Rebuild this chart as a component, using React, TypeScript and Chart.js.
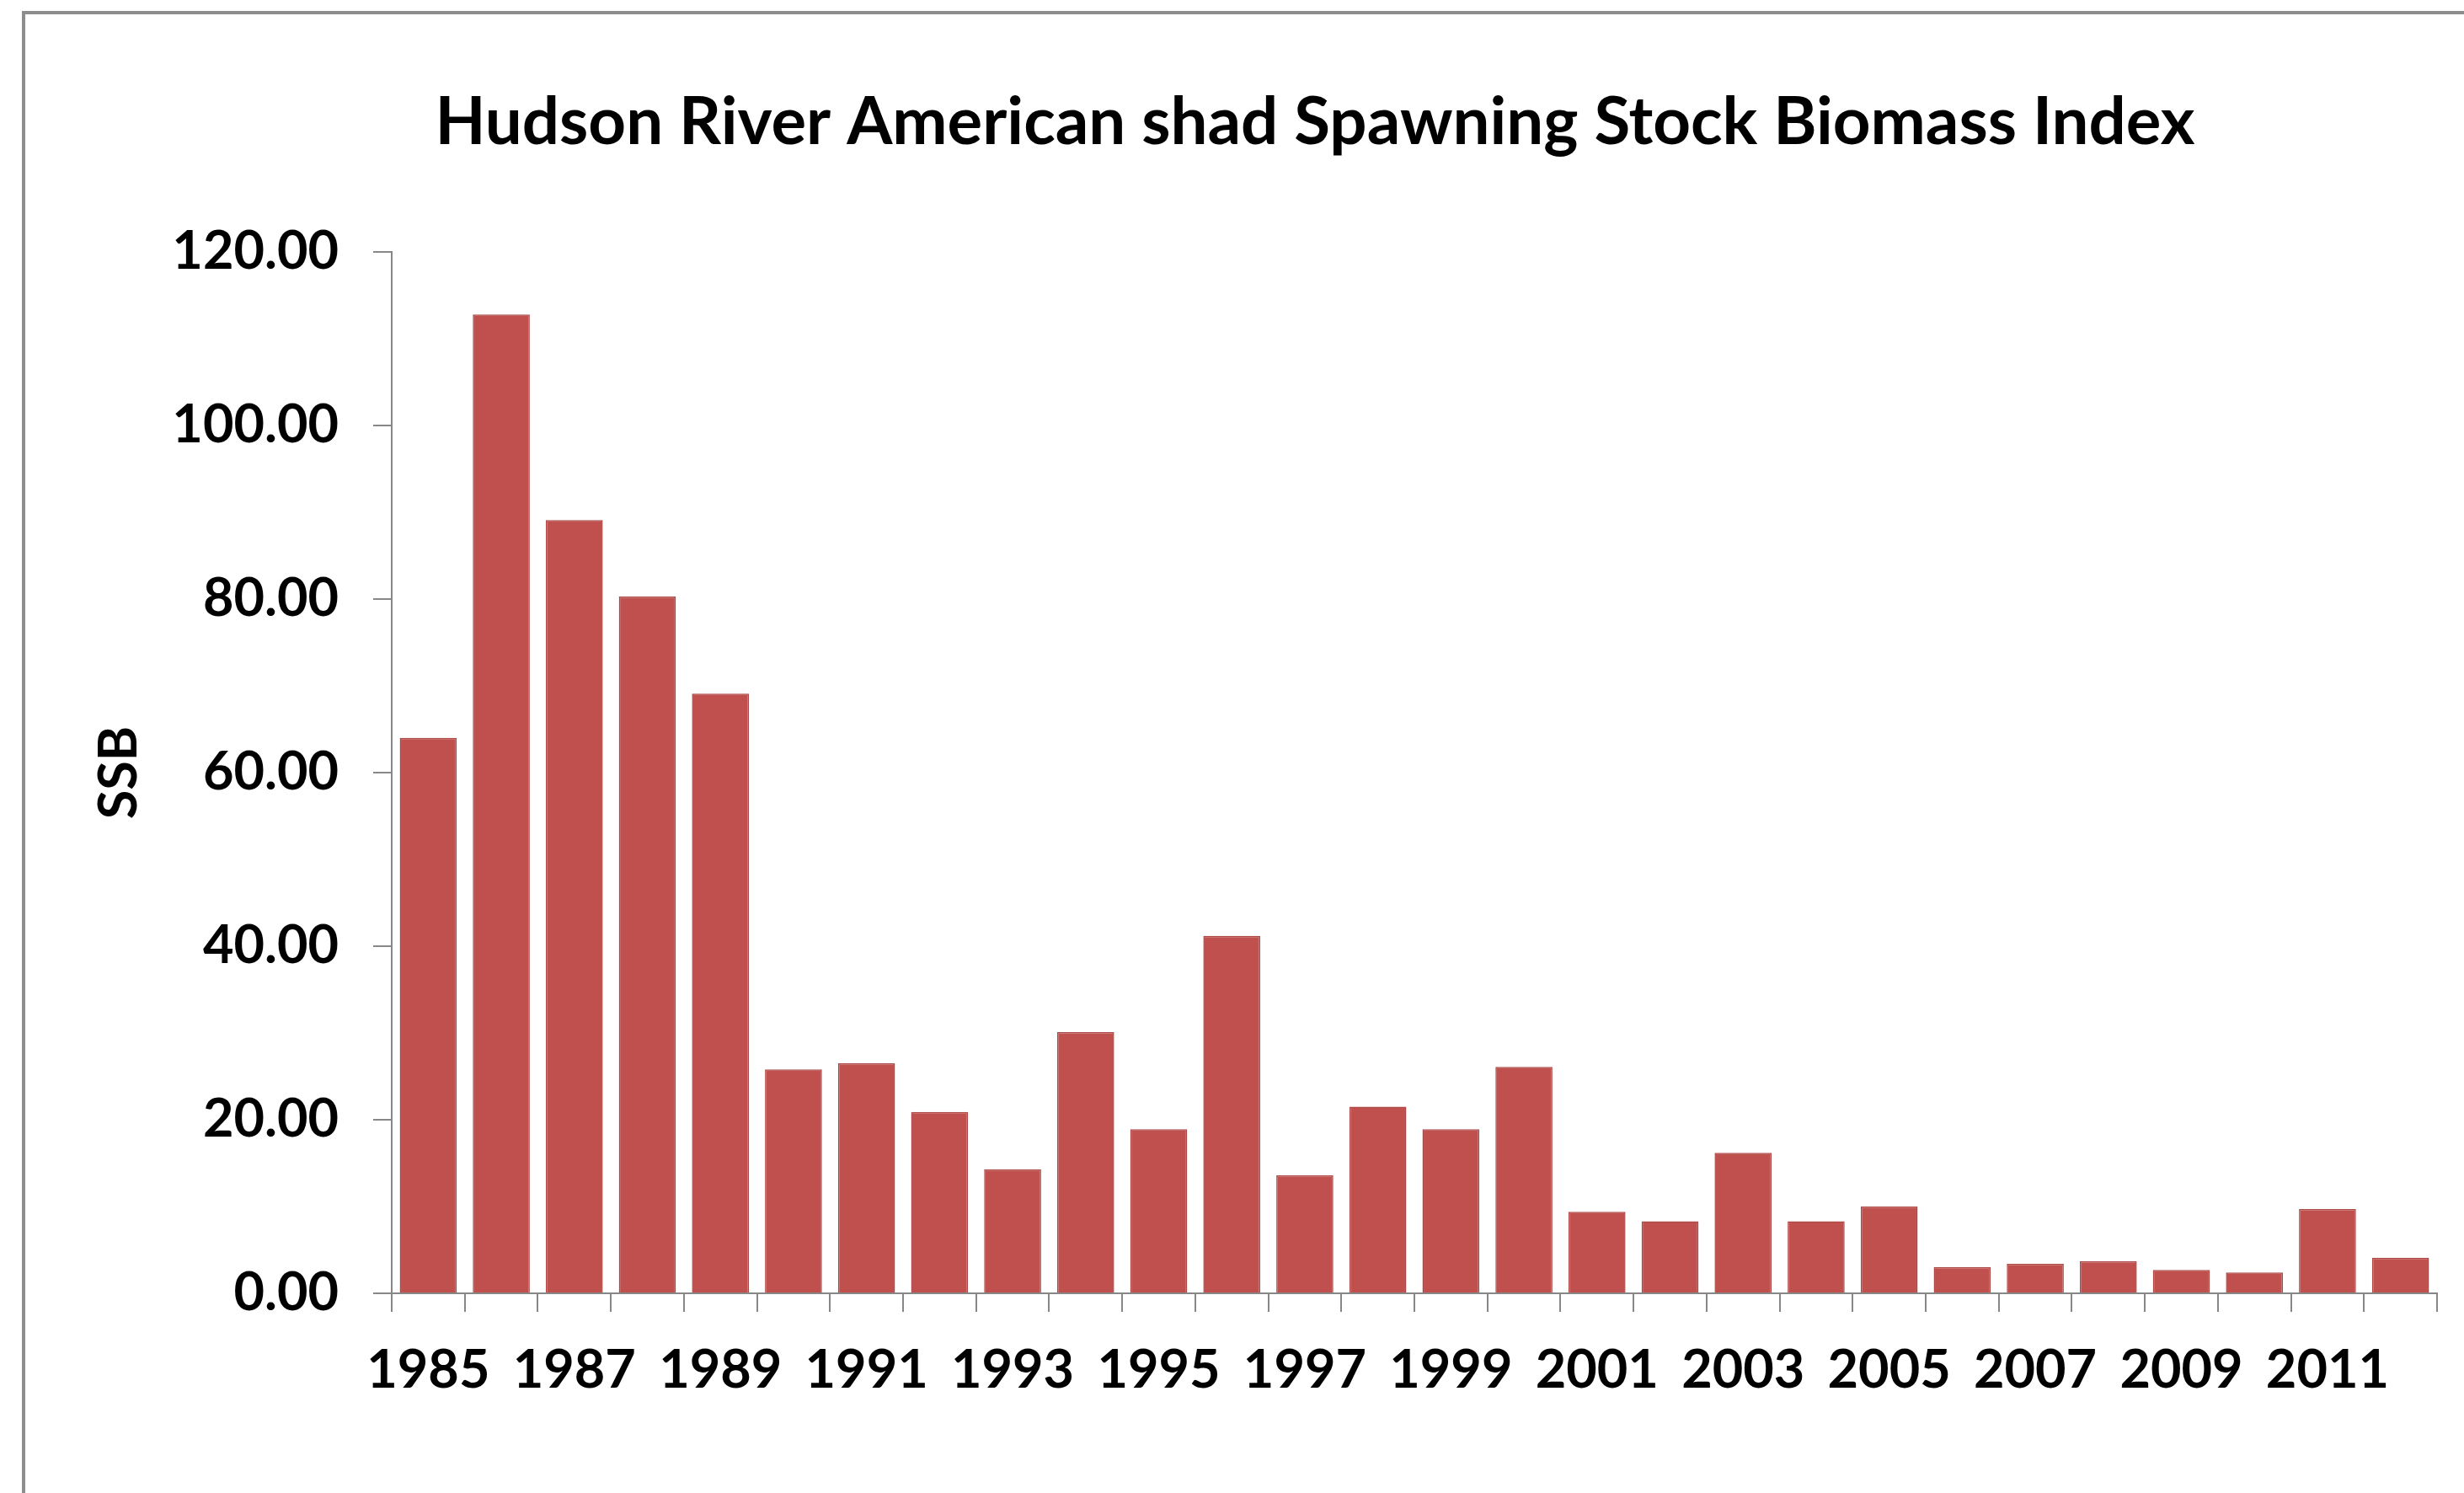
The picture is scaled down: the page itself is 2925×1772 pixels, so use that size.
import React, { useEffect, useRef } from 'react';
import { Chart, registerables } from 'chart.js';

Chart.register(...registerables);

// Survey years (x categories)
const years: string[] = [
  '1985', '1986', '1987', '1988', '1989', '1990', '1991', '1992', '1993', '1994',
  '1995', '1996', '1997', '1998', '1999', '2000', '2001', '2002', '2003', '2004',
  '2005', '2006', '2007', '2008', '2009', '2010', '2011', '2012',
];

// Spawning stock biomass index per year
const ssbIndex: number[] = [
  64.0, 112.8, 89.1, 80.3, 69.1, 25.8, 26.5, 20.9, 14.3, 30.1,
  18.9, 41.2, 13.6, 21.5, 18.9, 26.1, 9.4, 8.3, 16.2, 8.3,
  10.0, 3.0, 3.4, 3.7, 2.7, 2.4, 9.7, 4.1,
];

// Value axis range and step
const yMin = 0;
const yMax = 120;
const yStep = 20;

const chartTitle = 'Hudson River American shad Spawning Stock Biomass Index';
const yAxisTitle = 'SSB';

const FONT = 'Lato, "Open Sans", "DejaVu Sans", sans-serif';
const BAR_COLOR = '#C0504D';
const AXIS_COLOR = '#878787';

const CANVAS_W = 3062;
const CANVAS_H = 1800;

export default function App() {
  const canvasRef = useRef<HTMLCanvasElement | null>(null);

  useEffect(() => {
    const canvas = canvasRef.current;
    if (!canvas) return;

    const chart = new Chart(canvas, {
      type: 'bar',
      data: {
        labels: years,
        datasets: [
          {
            label: yAxisTitle,
            data: ssbIndex,
            backgroundColor: BAR_COLOR,
            borderColor: '#ad4845',
            borderWidth: 1.5,
            categoryPercentage: 1,
            barPercentage: 0.78,
            yAxisID: 'y',
          },
        ],
      },
      options: {
        responsive: false,
        animation: false,
        devicePixelRatio: 1,
        layout: { padding: 0 },
        plugins: {
          legend: { display: false },
          tooltip: { enabled: false },
          title: {
            display: true,
            text: chartTitle,
            color: '#000',
            font: { family: FONT, size: 78, weight: 'bold', lineHeight: 1.2 },
            padding: { top: 82, bottom: 106.4 },
          },
        },
        scales: {
          x: {
            type: 'category',
            position: 'bottom',
            grid: {
              display: true,
              offset: true,
              drawOnChartArea: false,
              drawTicks: true,
              tickLength: 22,
              color: AXIS_COLOR,
              lineWidth: 2,
            },
            border: { display: true, color: AXIS_COLOR, width: 2 },
            ticks: {
              autoSkip: false,
              maxRotation: 0,
              minRotation: 0,
              padding: 32,
              color: '#000',
              font: { family: FONT, size: 63, weight: 'bold', lineHeight: 1.2 },
              callback: (_value: any, index: number) => (index % 2 === 0 ? years[index] : ''),
            },
            afterFit: (scale: any) => {
              scale.height = CANVAS_H - 1518;
            },
          },
          y: {
            type: 'linear',
            position: 'left',
            min: yMin,
            max: yMax,
            grid: {
              display: true,
              drawOnChartArea: false,
              drawTicks: true,
              tickLength: 22,
              color: AXIS_COLOR,
              lineWidth: 2,
            },
            border: { display: true, color: AXIS_COLOR, width: 2 },
            ticks: {
              stepSize: yStep,
              padding: 41,
              color: '#000',
              font: { family: FONT, size: 63, weight: 'bold', lineHeight: 1.2 },
              callback: (value: any) => Number(value).toFixed(2),
            },
            title: {
              display: true,
              text: yAxisTitle,
              color: '#000',
              font: { family: FONT, size: 63, weight: 'bold', lineHeight: 1.2 },
              padding: { top: 74, bottom: 0 },
            },
            afterFit: (scale: any) => {
              scale.width = 435;
            },
          },
          // empty right-hand band that reserves the plot's right margin
          yPad: {
            type: 'linear',
            position: 'right',
            display: true,
            grid: { display: false, drawTicks: false },
            border: { display: false },
            ticks: { display: false },
            title: { display: false },
            afterFit: (scale: any) => {
              scale.width = CANVAS_W - 2863;
            },
          },
        },
      },
    } as any);

    return () => {
      chart.destroy();
    };
  }, []);

  return (
    <div
      style={{
        position: 'fixed',
        left: 0,
        top: 0,
        width: 2925,
        height: 1772,
        overflow: 'hidden',
        background: '#ffffff',
      }}
    >
      <div
        style={{
          position: 'absolute',
          left: 26,
          top: 13,
          width: CANVAS_W,
          height: CANVAS_H,
          border: '4px solid #8d8d8d',
          background: '#ffffff',
        }}
      >
        <canvas
          ref={canvasRef}
          width={CANVAS_W}
          height={CANVAS_H}
          style={{ display: 'block', width: CANVAS_W, height: CANVAS_H }}
        />
      </div>
    </div>
  );
}
